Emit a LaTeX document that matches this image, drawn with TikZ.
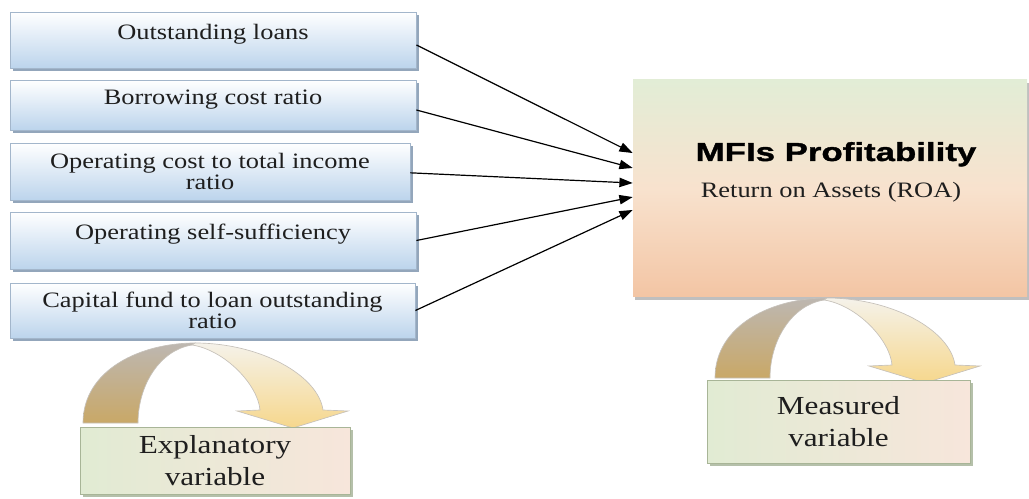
\documentclass[tikz,border=0pt]{standalone}
\usepackage{fontspec}
\setmainfont{Liberation Serif}[FakeStretch=1.2]
\newfontfamily\titlefont{Liberation Sans}[FakeStretch=1.34, BoldFeatures={FakeBold=1.4}]
\usetikzlibrary{arrows.meta,shadows}
\definecolor{boxedge}{HTML}{A3B6CB}
\definecolor{boxblue}{HTML}{BCD4EC}
\definecolor{shadowblue}{HTML}{93A6BB}
\definecolor{mgreen}{HTML}{E2EDD6}
\definecolor{mpeach}{HTML}{F8E2CE}
\definecolor{msalmon}{HTML}{F3C5A4}
\definecolor{sgreen}{HTML}{E1EBD3}
\definecolor{spink}{HTML}{F7E6DB}
\definecolor{sedge}{HTML}{A8B597}
\definecolor{sshadow}{HTML}{B5C0AA}
\definecolor{arcgray}{HTML}{BDB7B1}
\definecolor{arctan}{HTML}{C9A867}
\definecolor{arclight}{HTML}{F5F2EA}
\definecolor{arcyellow}{HTML}{F6D78C}
\definecolor{arcedge}{HTML}{C6C1BA}
\definecolor{txt}{HTML}{1E1E1E}
\begin{document}
\begin{tikzpicture}[x=0.75pt,y=-0.75pt,
  inbox/.style={draw=boxedge, line width=0.6pt, top color=white, bottom color=boxblue,
    minimum width=304.5pt, inner sep=0pt, align=center, text=txt,
    font=\fontsize{16.5pt}{16pt}\selectfont,
    drop shadow={shadow xshift=2pt,shadow yshift=-2pt,fill=shadowblue,opacity=1}},
  oneline/.style={text height=12pt, text depth=13pt},
  varbox/.style={draw=sedge, line width=0.6pt, left color=sgreen, right color=spink,
    inner sep=0pt, align=center, text=txt,
    font=\fontsize{19.5pt}{24.5pt}\selectfont,
    drop shadow={shadow xshift=2pt,shadow yshift=-2pt,fill=sshadow,opacity=1}},
  conn/.style={draw=black, line width=0.9pt, -{Triangle[length=10pt,width=7pt]}},
  arcback/.style={draw=arcedge, line width=0.5pt, top color=arcgray, bottom color=arctan},
  arcfront/.style={draw=arcedge, line width=0.5pt, top color=arclight, bottom color=arcyellow}
]
\useasboundingbox (0,0) rectangle (1029,499);

% explanatory boxes
\node[inbox, oneline, minimum height=42pt] (b1) at (213,40) {Outstanding loans};
\node[inbox, oneline, minimum height=37.5pt] (b2) at (213,105) {Borrowing cost ratio};
\node[inbox, minimum width=300pt, minimum height=42.75pt] (b3) at (210,171.5)
  {Operating cost to total income\\ratio};
\node[inbox, oneline, minimum height=42.75pt] (b4) at (213,240.5) {Operating self-sufficiency};
\node[inbox, minimum width=303.75pt, minimum height=41.25pt] (b5) at (212.5,310.5)
  {Capital fund to loan outstanding\\ratio};

% measured box
\node[draw=none, top color=mgreen, bottom color=msalmon, middle color=mpeach,
  minimum width=295.5pt, minimum height=162.75pt, inner sep=0pt,
  drop shadow={shadow xshift=1.5pt,shadow yshift=-2pt,fill=black!25,opacity=1}] (m) at (830,188.5) {};
\node[anchor=base, text=black, font=\titlefont\bfseries\fontsize{19.5pt}{22pt}\selectfont] (title) at (836,161) {MFIs Profitability};
\node[anchor=base, text=txt, font=\fontsize{16.5pt}{18pt}\selectfont] (roa) at (831,198) {Return on Assets (ROA)};

% connectors
\draw[conn] ([yshift=-3.75pt]b1.east) -- ([yshift=26.6pt]m.west);
\draw[conn] ([yshift=-3.75pt]b2.east) -- ([yshift=15.4pt]m.west);
\draw[conn] ([yshift=-1pt]b3.east) -- ([yshift=4.1pt]m.west);
\draw[conn] (b4.east) -- ([yshift=-6.4pt]m.west);
\draw[conn] (b5.east) -- ([yshift=-16.1pt]m.west);

% curved arrows
\foreach \sx/\sy in {0/0, 632/-45} {
  \begin{scope}[shift={(\sx,\sy)}]
    \path[arcback] (83,423) .. controls (83,370) and (140,343) .. (195,343)
      -- (192,345) .. controls (160,350) and (138,385) .. (138,423) -- cycle;
    \path[arcfront] (195,343) .. controls (260,343) and (318,375) .. (323,410)
      -- (348,411) -- (293,428) -- (237,411) -- (260,410)
      .. controls (258,385) and (225,350) .. (192,345) -- cycle;
  \end{scope}
}

% variable boxes
\node[varbox, minimum width=202.5pt, minimum height=50.25pt] (expl) at (215,460.5)
  {Explanatory\\variable};
\node[varbox, minimum width=197.25pt, minimum height=62.25pt] (meas) at (838.5,421.5)
  {Measured\\variable};
\end{tikzpicture}
\end{document}
